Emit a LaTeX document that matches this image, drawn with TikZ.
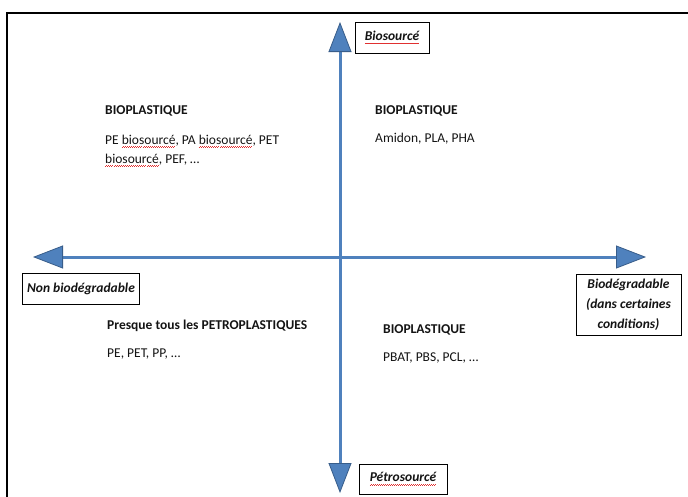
\documentclass[tikz,border=0pt]{standalone}
\usepackage{fontspec}
\setmainfont{Carlito}
\usetikzlibrary{arrows.meta}
\definecolor{axisfill}{HTML}{4F81BD}
\definecolor{axisline}{HTML}{385D8A}
\definecolor{txt}{HTML}{141414}
\definecolor{spellred}{HTML}{E03030}
\newsavebox\spellbox
\newcommand\spellwave[1]{\sbox\spellbox{#1}\rlap{\textcolor{spellred}{\hbox to \wd\spellbox{\xleaders\hbox{\rule[-3.4pt]{1pt}{0.6pt}\rule[-2.7pt]{1pt}{0.6pt}}\hfill}}}\usebox\spellbox}
\tikzset{
  heading/.style={font=\fontsize{13.5}{16}\selectfont\bfseries, anchor=base west, inner sep=0pt, text=txt},
  body/.style={font=\fontsize{13.5}{16}\selectfont, anchor=base west, inner sep=0pt, text=txt},
  lblbox/.style={draw=black, line width=0.8pt, fill=white, font=\fontsize{13.5}{20}\selectfont\bfseries\itshape, align=center, inner sep=0pt, text=txt},
  axis/.style={draw=axisfill, line width=3pt,
    {Triangle[width=23pt, length=30pt, line width=0.8pt, fill=axisfill, color=axisline]}-{Triangle[width=23pt, length=30pt, line width=0.8pt, fill=axisfill, color=axisline]}}
}
\begin{document}
\begin{tikzpicture}[x=1pt,y=-1pt]
\useasboundingbox (0,0) rectangle (688,496);
\clip (0,0) rectangle (688,496);
\fill[white] (0,0) rectangle (688,496);
% frame
\draw[line width=2pt] (6.5,510) -- (6.5,12.5) -- (700,12.5);
% axes
\coordinate (top) at (340,22);
\coordinate (bottom) at (340,493);
\coordinate (left) at (33,257);
\coordinate (right) at (646,257);
\draw[axis] (bottom) -- (top);
\draw[axis] (left) -- (right);
% axis labels
\node[lblbox, minimum width=74pt, minimum height=31pt] (bio) at (392,37.5) {\spellwave{Biosourcé}};
\node[lblbox, minimum width=117pt, minimum height=31pt] (nonbio) at (81,288.5) {Non biodégradable};
\node[lblbox, minimum width=105pt, minimum height=61pt] (biodeg) at (628.5,304.5) {Biodégradable\\(dans certaines\\conditions)};
\node[lblbox, minimum width=88pt, minimum height=30pt] (petro) at (403,479) {\spellwave{Pétrosourcé}};
% quadrant texts
\node[heading] (tl1) at (105,114) {BIOPLASTIQUE};
\node[body] (tl2) at (105,144) {PE \spellwave{biosourcé}, PA \spellwave{biosourcé}, PET};
\node[body] (tl3) at (105,163) {\spellwave{biosourcé}, PEF, …};
\node[heading] (tr1) at (375,114) {BIOPLASTIQUE};
\node[body] (tr2) at (375,142) {Amidon, PLA, PHA};
\node[heading] (bl1) at (107,329) {Presque tous les PETROPLASTIQUES};
\node[body] (bl2) at (107,357) {PE, PET, PP, …};
\node[heading] (br1) at (383,333) {BIOPLASTIQUE};
\node[body] (br2) at (383,361) {PBAT, PBS, PCL, …};
\end{tikzpicture}
\end{document}
